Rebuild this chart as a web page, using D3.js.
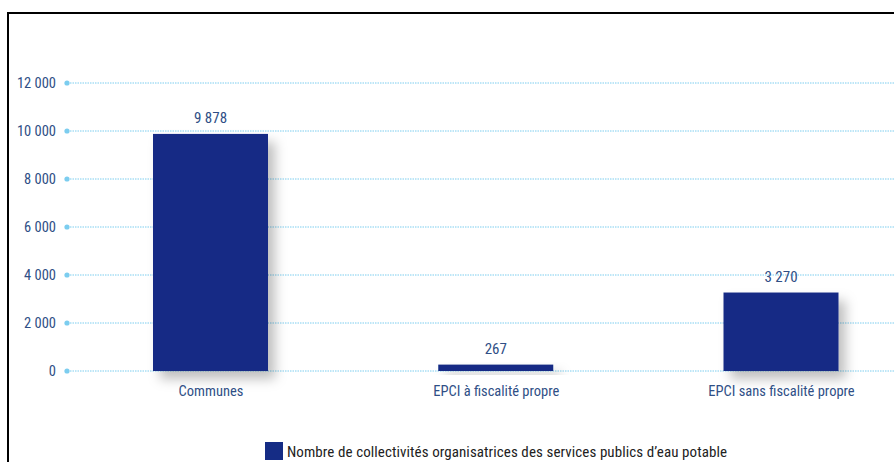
<!DOCTYPE html>
<html>
<head>
<meta charset="utf-8">
<script src="https://cdn.jsdelivr.net/npm/d3@7"></script>
<style>
  body { margin: 0; background: #fff; }
  text { font-family: "Liberation Sans Narrow", "Arial Narrow", "Roboto Condensed", "Liberation Sans", sans-serif; }
</style>
</head>
<body>
<div id="chart-area"></div>
<script>
// data
const categories = ['Communes', 'EPCI à fiscalité propre', 'EPCI sans fiscalité propre']
const values = [9878, 267, 3270]
const yTicks = [0, 2000, 4000, 6000, 8000, 10000, 12000]
const legendLabel = 'Nombre de collectivités organisatrices des services publics d\u2019eau potable'

const W = 894
const H = 462
const BAR_COLOR = '#152c85'
const TEXT_COLOR = '#2f4f86'
const GRID_COLOR = '#7ccdef'

const svg = d3.select('#chart-area').append('svg')
  .attr('width', W)
  .attr('height', H)

// drop shadow for bars
const defs = svg.append('defs')
const f = defs.append('filter')
  .attr('id', 'shadow')
  .attr('x', '-30%').attr('y', '-30%')
  .attr('width', '180%').attr('height', '180%')
f.append('feDropShadow')
  .attr('dx', 7).attr('dy', 8)
  .attr('stdDeviation', 6)
  .attr('flood-color', '#000')
  .attr('flood-opacity', 0.25)

// frame
svg.append('line').attr('x1', 8).attr('x2', 8).attr('y1', 12).attr('y2', H)
  .attr('stroke', '#000').attr('stroke-width', 2)
svg.append('line').attr('x1', 7).attr('x2', W).attr('y1', 13).attr('y2', 13)
  .attr('stroke', '#000').attr('stroke-width', 2)

// scales
const x = d3.scalePoint()
  .domain(categories)
  .range([210.5, 781])
const BAR_W = 115

const y = d3.scaleLinear()
  .domain([0, 12000])
  .range([371, 83])

const fmt = v => d3.format(',')(v).replace(/,/g, ' ')

// gridlines + dots
const grid = svg.append('g').attr('class', 'grid')
grid.selectAll('line').data(yTicks).enter().append('line')
  .attr('x1', 70).attr('x2', W)
  .attr('y1', d => y(d)).attr('y2', d => y(d))
  .attr('stroke', GRID_COLOR)
  .attr('stroke-width', 1)
  .attr('stroke-dasharray', '1.5,1')
grid.selectAll('circle').data(yTicks).enter().append('circle')
  .attr('cx', 67).attr('cy', d => y(d))
  .attr('r', 2.6)
  .attr('fill', GRID_COLOR)

// y axis labels
const yAxis = d3.axisLeft(y).tickValues(yTicks).tickFormat(fmt).tickSize(0).tickPadding(0)
const yg = svg.append('g')
  .attr('transform', 'translate(56, 0)')
  .call(yAxis)
yg.select('.domain').remove()
yg.selectAll('text')
  .attr('fill', TEXT_COLOR)
  .attr('font-size', '14.5px')
  .attr('font-family', null)

// bars
svg.append('g').selectAll('rect')
  .data(values).enter().append('rect')
  .attr('x', (d, i) => x(categories[i]) - BAR_W / 2)
  .attr('y', d => y(d))
  .attr('width', BAR_W)
  .attr('height', d => y(0) - y(d))
  .attr('fill', BAR_COLOR)
  .attr('filter', 'url(#shadow)')

// value labels
svg.append('g').selectAll('text')
  .data(values).enter().append('text')
  .attr('x', (d, i) => x(categories[i]))
  .attr('y', d => y(d) - 11)
  .attr('text-anchor', 'middle')
  .attr('fill', TEXT_COLOR)
  .attr('font-size', '15px')
  .text(d => fmt(d))

// x axis labels
const xAxis = d3.axisBottom(x).tickSize(0).tickPadding(0)
const xg = svg.append('g')
  .attr('transform', 'translate(0, 386)')
  .call(xAxis)
xg.select('.domain').remove()
xg.selectAll('text')
  .attr('fill', TEXT_COLOR)
  .attr('font-size', '14.5px')
  .attr('font-family', null)

// legend
const lg = svg.append('g').attr('transform', 'translate(265, 442)')
lg.append('rect')
  .attr('width', 18).attr('height', 18)
  .attr('fill', BAR_COLOR)
lg.append('text')
  .attr('x', 22).attr('y', 15)
  .attr('fill', '#222')
  .attr('font-size', '15px')
  .attr('textLength', 440)
  .attr('lengthAdjust', 'spacing')
  .text(legendLabel)
</script>
</body>
</html>
